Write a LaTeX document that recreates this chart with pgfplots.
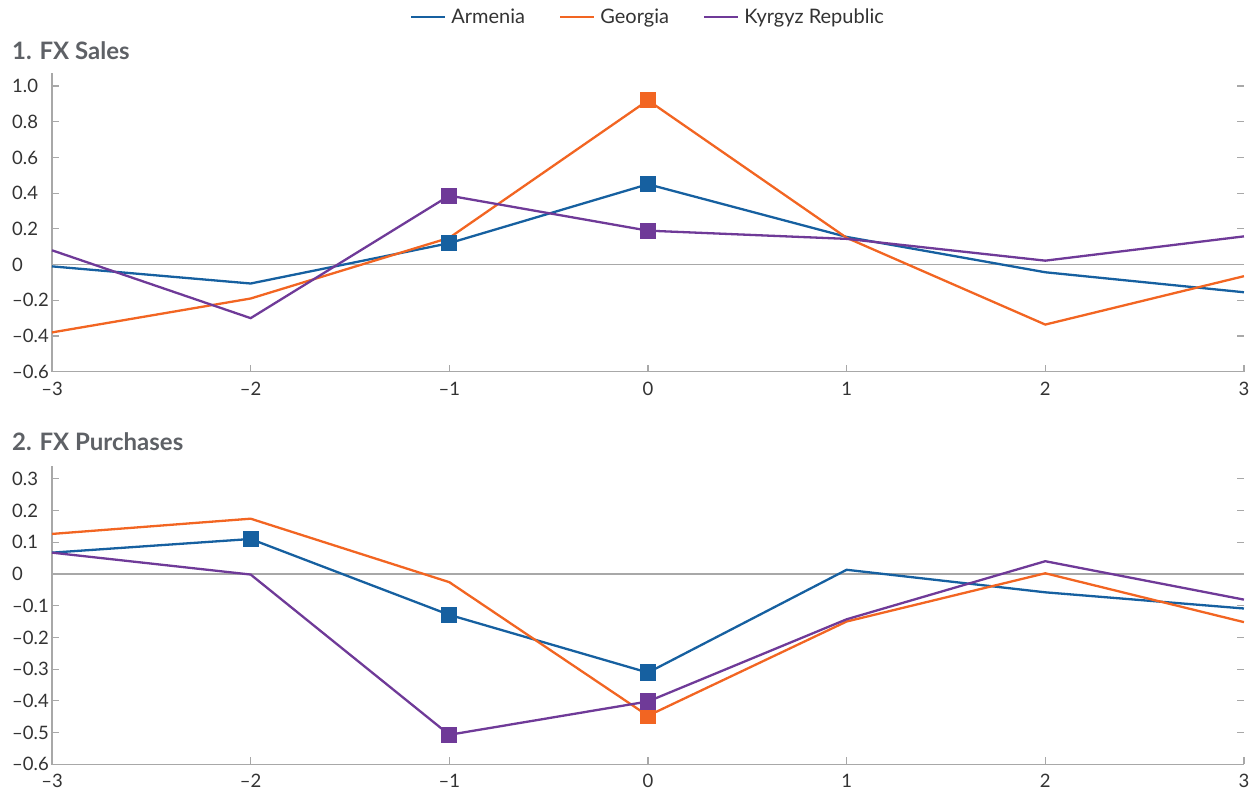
\documentclass[border=0pt]{standalone}
\usepackage{fontspec}
\setmainfont{Lato}
\usepackage{pgfplots}
\pgfplotsset{compat=1.18}
\definecolor{arm}{HTML}{1660A0}
\definecolor{geo}{HTML}{F26522}
\definecolor{kgz}{HTML}{6F3A98}
\definecolor{axgray}{HTML}{A8A8A8}
\definecolor{titlegray}{HTML}{5E6166}
\definecolor{ticktext}{HTML}{333333}
\pgfplotsset{
 panel/.style={
  scale only axis, width=1192pt, xmin=-3, xmax=3,
  axis line style={draw=none},
  tick align=inside, major tick length=7pt,
  tick style={axgray, line width=1.2pt},
  xtick={-3,-2,-1,0,1,2,3}, xticklabels={–3,–2,–1,0,1,2,3},
  xtick pos=left, ytick pos=both,
  every tick label/.append style={font=\fontsize{18.5}{20}\selectfont, text=ticktext},
  xticklabel style={anchor=north, inner sep=0pt, yshift=-10pt},
  yticklabel style={anchor=west, inner sep=0pt, xshift=-40pt},
  clip=false,
  every axis plot/.append style={line width=2.3pt, mark=square*, mark size=7pt, mark options={solid, draw=none}},
 }
}
\begin{document}
\begin{tikzpicture}
\useasboundingbox (0,0) rectangle (1255pt,-793pt);
\node[anchor=base west, font=\fontsize{24}{26}\selectfont\bfseries, text=titlegray, inner sep=0pt] at (12pt,-59pt) {1. FX Sales};
\node[anchor=base west, font=\fontsize{24}{26}\selectfont\bfseries, text=titlegray, inner sep=0pt] at (12pt,-450pt) {2. FX Purchases};
\begin{axis}[panel, at={(52pt,-371.7pt)}, anchor=south west, height=298.7pt,
  ymin=-0.6, ymax=1.073,
  ytick={-0.6,-0.4,-0.2,0,0.2,0.4,0.6,0.8,1.0},
  yticklabels={–0.6,–0.4,–0.2,0,0.2,0.4,0.6,0.8,1.0},
  legend columns=3,
  legend style={at={(0.5,1.1875)}, anchor=center, draw=none, fill=none,
    font=\fontsize{20}{22}\selectfont, text=ticktext,
    /tikz/every even column/.append style={column sep=32pt},
    /tikz/every odd column/.append style={column sep=3pt}},
  legend image code/.code={\draw[#1, mark=none, line width=2.3pt] (0pt,0pt) -- (34pt,0pt);},
  legend cell align=left,
]
\draw[axgray, line width=1.2pt] (axis cs:-3,0) -- (axis cs:3,0);
\draw[axgray, line width=1.5pt] (rel axis cs:0,1) -- (rel axis cs:0,0) -- (rel axis cs:1,0);
\addplot[arm, mark indices={3,4}] coordinates {(-3,-0.01) (-2,-0.106) (-1,0.12) (0,0.45) (1,0.155) (2,-0.043) (3,-0.155)};
\addlegendentry{Armenia}
\addplot[geo, mark indices={4}] coordinates {(-3,-0.38) (-2,-0.19) (-1,0.15) (0,0.92) (1,0.15) (2,-0.336) (3,-0.065)};
\addlegendentry{Georgia}
\addplot[kgz, mark indices={3,4}] coordinates {(-3,0.08) (-2,-0.30) (-1,0.386) (0,0.19) (1,0.144) (2,0.022) (3,0.158)};
\addlegendentry{Kyrgyz Republic}
\end{axis}
\begin{axis}[panel, at={(52pt,-764.3pt)}, anchor=south west, height=298.3pt,
  ymin=-0.6, ymax=0.34,
  ytick={-0.6,-0.5,-0.4,-0.3,-0.2,-0.1,0,0.1,0.2,0.3},
  yticklabels={–0.6,–0.5,–0.4,–0.3,–0.2,–0.1,0,0.1,0.2,0.3},
]
\draw[axgray, line width=1.2pt] (axis cs:-3,0) -- (axis cs:3,0);
\draw[axgray, line width=1.5pt] (rel axis cs:0,1) -- (rel axis cs:0,0) -- (rel axis cs:1,0);
\addplot[arm, mark indices={2,3,4}] coordinates {(-3,0.067) (-2,0.110) (-1,-0.129) (0,-0.311) (1,0.013) (2,-0.058) (3,-0.109)};
\addplot[geo, mark indices={4}] coordinates {(-3,0.126) (-2,0.174) (-1,-0.026) (0,-0.447) (1,-0.150) (2,0.002) (3,-0.152)};
\addplot[kgz, mark indices={3,4}] coordinates {(-3,0.067) (-2,-0.002) (-1,-0.507) (0,-0.402) (1,-0.143) (2,0.040) (3,-0.081)};
\end{axis}
\end{tikzpicture}
\end{document}
